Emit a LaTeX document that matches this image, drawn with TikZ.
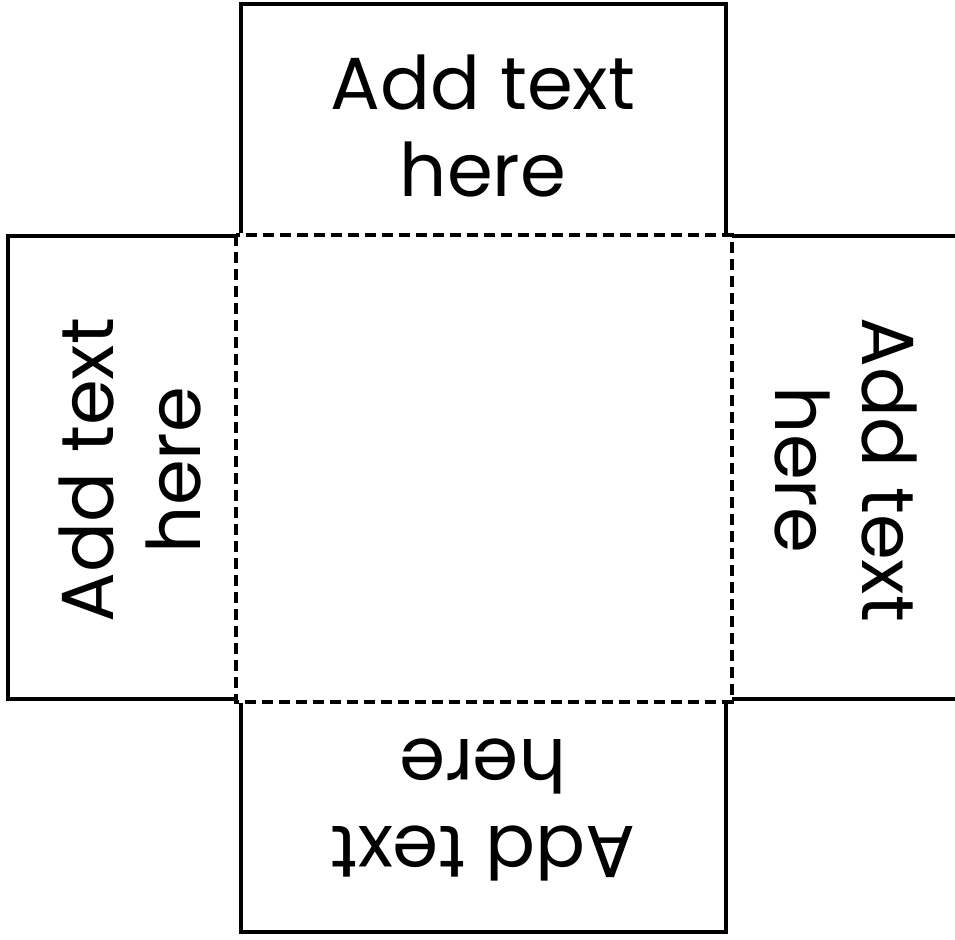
\documentclass[tikz,border=0pt]{standalone}
\usepackage{fontspec}
\setmainfont{Poppins}
\usetikzlibrary{calc}

\tikzset{
  flap/.style={line width=0.045cm},
  fold/.style={line width=0.038cm, dash pattern=on 0.11cm off 0.06cm},
  flaptext/.style={align=center, font=\fontsize{21}{25}\selectfont, inner sep=0pt}
}

\begin{document}
\begin{tikzpicture}[x=0.01cm,y=-0.01cm]
          \useasboundingbox (0,0) rectangle (955,940);
          % flaps
          \draw [flap] (241,233) -- (241,4) -- (726,4) -- (726,233);
          \draw [flap] (236,236) -- (8,236) -- (8,699) -- (236,699);
          \draw [flap] (732,236) -- (970,236) (970,699) -- (732,699);
          \draw [flap] (241,703) -- (241,932) -- (726,932) -- (726,703);
          % base
          \draw [fold] (236,235) rectangle (732,702);
          \node [flaptext] (topflap) at (483,126) {Add text\\here};
          \node [flaptext, rotate=90] (leftflap) at (130,470) {Add text\\here};
          \node [flaptext, rotate=-90] (rightflap) at (846,470) {Add text\\here};
          \node [flaptext, rotate=180] (bottomflap) at (483,810) {Add text\\here};
        \end{tikzpicture}
\end{document}
